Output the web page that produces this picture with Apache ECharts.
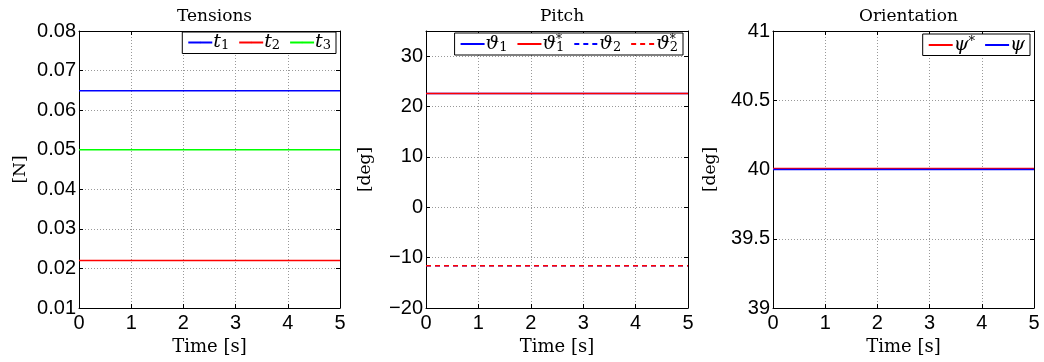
<!DOCTYPE html>
<html>
<head>
<meta charset="utf-8">
<script src="https://cdn.jsdelivr.net/npm/echarts@6/dist/echarts.min.js"></script>
<style>
  html, body { margin: 0; padding: 0; background: #fff; }
  #chart { width: 1044px; height: 362px; }
</style>
</head>
<body>
<div id="chart"></div>
<script>
// time samples [s]
var time = [0, 5];

// tensions [N]
var t1 = [0.0649, 0.0649];
var t2 = [0.022, 0.022];
var t3 = [0.05, 0.05];

// pitch [deg]
var theta1 = [22.6, 22.6];
var theta1Ref = [22.6, 22.6];
var theta2 = [-11.6, -11.6];
var theta2Ref = [-11.6, -11.6];

// orientation [deg]
var psiRef = [40.006, 40.006];
var psi = [40, 40];

function pairs(ys) {
  return time.map(function (t, i) { return [t, ys[i]]; });
}

var chartDom = document.getElementById("chart");
var myChart = echarts.init(chartDom);

var serif = "DejaVu Serif";
var sans = "Liberation Sans";

var grids = [
  { left: 79, width: 261, top: 31, bottom: 54 },
  { left: 426, width: 262, top: 31, bottom: 54 },
  { left: 773, width: 261, top: 31, bottom: 54 },
];

var yRanges = [
  { min: 0.01, max: 0.08, interval: 0.01, name: "[N]", gap: 50, fmt: function (v) { return v.toFixed(2); } },
  { min: -20, max: 35, interval: 10, name: "[deg]", gap: 52, fmt: function (v) { return v < 0 ? "\u2212" + Math.abs(v) : String(v); } },
  { min: 39, max: 41, interval: 0.5, name: "[deg]", gap: 54, fmt: function (v) { return String(v); } },
];

var titles = ["Tensions", "Pitch", "Orientation"];

var gridLine = { show: true, lineStyle: { color: "#999", type: [1, 2], width: 1 } };
var boxLine = { show: true, onZero: false, lineStyle: { color: "#000", width: 1 } };
var tickIn = { show: true, inside: true, length: 4, lineStyle: { color: "#000" } };

var xAxes = [], yAxes = [], titleList = [];
grids.forEach(function (g, i) {
  titleList.push({
    text: titles[i],
    left: g.left + g.width / 2,
    top: 3,
    textAlign: "center",
    textStyle: { fontFamily: serif, fontWeight: "normal", fontSize: 17, color: "#000" },
  });
  xAxes.push({
    gridIndex: i, type: "value", min: 0, max: 5, interval: 1, position: "bottom",
    name: "Time [s]", nameLocation: "middle", nameGap: 28,
    nameTextStyle: { fontFamily: serif, fontSize: 18, color: "#000" },
    axisLine: boxLine, axisTick: tickIn, splitLine: gridLine,
    axisLabel: { fontFamily: sans, fontSize: 20, color: "#000", margin: 5 },
  });
  xAxes.push({
    gridIndex: i, type: "value", min: 0, max: 5, interval: 1, position: "top",
    axisLine: boxLine, axisTick: tickIn, splitLine: { show: false }, axisLabel: { show: false },
  });
  var r = yRanges[i];
  yAxes.push({
    gridIndex: i, type: "value", min: r.min, max: r.max, interval: r.interval, position: "left",
    name: r.name, nameLocation: "middle", nameGap: r.gap,
    nameTextStyle: { fontFamily: serif, fontSize: 17, color: "#000" },
    axisLine: boxLine, axisTick: tickIn, splitLine: gridLine,
    axisLabel: { fontFamily: sans, fontSize: 20, color: "#000", margin: 3, formatter: r.fmt, showMaxLabel: i !== 1 },
  });
  yAxes.push({
    gridIndex: i, type: "value", min: r.min, max: r.max, interval: r.interval, position: "right",
    axisLine: boxLine, axisTick: tickIn, splitLine: { show: false }, axisLabel: { show: false },
  });
});

var solidIcon = "path://M0,0h24v2h-24z";
var dashIcon = "path://M0,0h5v2h-5z M9.5,0h5v2h-5z M19,0h5v2h-5z";

function line(name, data, idx, color, dashed) {
  return {
    name: name, type: "line", data: pairs(data),
    xAxisIndex: idx * 2, yAxisIndex: idx * 2,
    symbol: "none", silent: true, animation: false,
    legendIcon: dashed ? dashIcon : solidIcon,
    lineStyle: { color: color, width: 1.6, type: dashed ? [5, 4] : "solid" },
    itemStyle: { color: color },
  };
}

// legend labels: base glyph, subscript, superscript
var labelParts = {
  "t\u2081": ["t", "1", ""], "t\u2082": ["t", "2", ""], "t\u2083": ["t", "3", ""],
  "\u03d1\u2081": ["\u03d1", "1", ""], "\u03d1\u2081*": ["\u03d1", "1", "*"],
  "\u03d1\u2082": ["\u03d1", "2", ""], "\u03d1\u2082*": ["\u03d1", "2", "*"],
  "\u03c8*": ["\u03c8", "", "*"], "\u03c8": ["\u03c8", "", ""],
};

function legendLabel(name) {
  var p = labelParts[name];
  var s = "{b|" + p[0] + "}";
  if (p[2] && p[1]) s += "{sp|" + p[2] + "}";
  else if (p[2]) s += "{spx|" + p[2] + "}";
  if (p[1]) s += "{sb|" + p[1] + "}";
  return s;
}

var legendBase = {
  orient: "horizontal",
  backgroundColor: "#fff",
  borderColor: "#000",
  borderWidth: 1,
  borderRadius: 0,
  padding: [1, 5, 1, 5],
  itemWidth: 24,
  itemHeight: 2,
  itemGap: 9,
  formatter: legendLabel,
  textStyle: {
    color: "#000",
    padding: [0, 0, 0, -4],
    rich: {
      b: { fontFamily: serif, fontStyle: "italic", fontSize: 19, color: "#000", lineHeight: 20, verticalAlign: "middle" },
      sb: { fontFamily: serif, fontSize: 13, color: "#000", lineHeight: 20, verticalAlign: "bottom", padding: [6, 0, 0, 0] },
      sp: { fontFamily: serif, fontSize: 12, color: "#000", lineHeight: 20, verticalAlign: "top", width: 0 },
      spx: { fontFamily: serif, fontSize: 13, color: "#000", lineHeight: 20, verticalAlign: "top" },
    },
  },
};

function legendAt(right, top, names) {
  return Object.assign({}, legendBase, { right: right, top: top, data: names });
}

var option = {
  backgroundColor: "#fff",
  animation: false,
  title: titleList,
  grid: grids,
  xAxis: xAxes,
  yAxis: yAxes,
  legend: [
    legendAt(1044 - 336, 32, ["t\u2081", "t\u2082", "t\u2083"]),
    legendAt(1044 - 683, 33, ["\u03d1\u2081", "\u03d1\u2081*", "\u03d1\u2082", "\u03d1\u2082*"]),
    legendAt(1044 - 1030, 34, ["\u03c8*", "\u03c8"]),
  ],
  series: [
    line("t\u2081", t1, 0, "#0000ff"),
    line("t\u2082", t2, 0, "#ff0000"),
    line("t\u2083", t3, 0, "#00ff00"),
    line("\u03d1\u2081", theta1, 1, "#0000ff"),
    line("\u03d1\u2081*", theta1Ref, 1, "#ff0000"),
    line("\u03d1\u2082", theta2, 1, "#0000ff", true),
    line("\u03d1\u2082*", theta2Ref, 1, "#ff0000", true),
    line("\u03c8*", psiRef, 2, "#ff0000"),
    line("\u03c8", psi, 2, "#0000ff"),
  ],
};

option && myChart.setOption(option);
</script>
</body>
</html>
